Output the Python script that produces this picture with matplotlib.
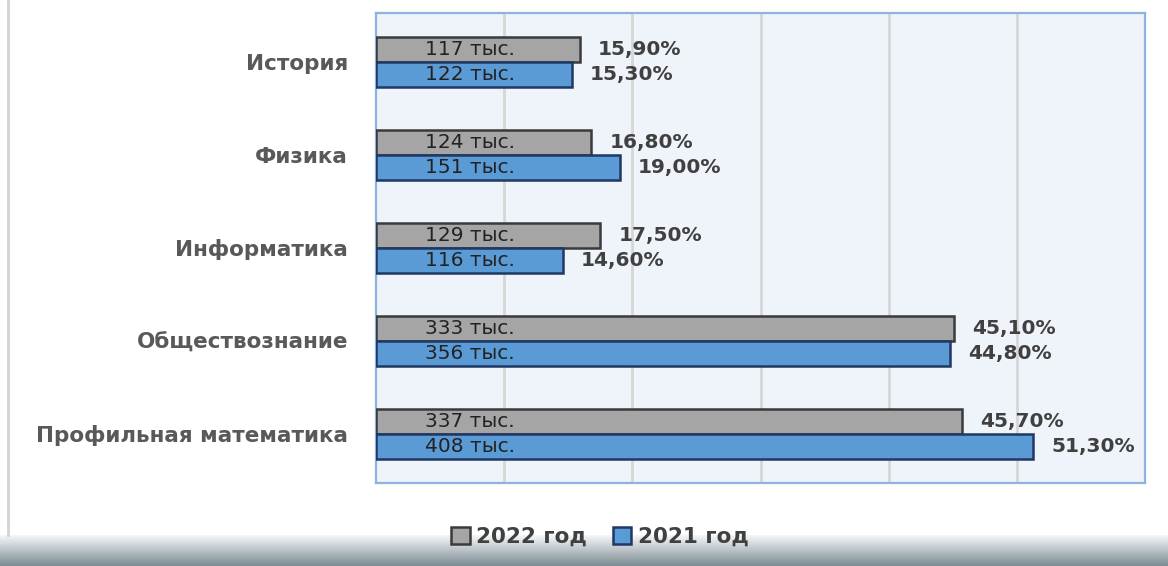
import numpy as np
import matplotlib.pyplot as plt
from matplotlib.patches import Patch
from matplotlib.lines import Line2D

# data
subjects = ['История', 'Физика', 'Информатика', 'Обществознание', 'Профильная математика']
pct_2022 = [15.9, 16.8, 17.5, 45.1, 45.7]
pct_2021 = [15.3, 19.0, 14.6, 44.8, 51.3]
count_2022 = [117, 124, 129, 333, 337]
count_2021 = [122, 151, 116, 356, 408]

gray = '#A5A5A5'
blue = '#5B9BD5'
text_dark = '#404040'

fig = plt.figure(figsize=(11.68, 5.66), dpi=100)
fig.patch.set_facecolor('white')

# bottom gradient band
band = fig.add_axes([0, 0, 1, 31 / 566])
grad = np.linspace(0, 1, 64).reshape(-1, 1)
top_c = np.array([0.96, 0.97, 0.98])
bot_c = np.array([0.49, 0.55, 0.57])
img = top_c + (bot_c - top_c) * grad[..., None]
band.imshow(img, aspect='auto', extent=[0, 1, 0, 1], origin='upper')
band.axis('off')

# thin left frame line
fig.add_artist(Line2D([8 / 1168, 8 / 1168], [31 / 566, 1], color='#D4D4D4', lw=2))

ax = fig.add_axes([376 / 1168, 1 - 483 / 566, 769 / 1168, 470 / 566])
ax.set_facecolor('#EFF3FA')

y = np.arange(len(subjects))
h = 0.265
ax.barh(y - h / 2, pct_2022, height=h, color=gray, edgecolor='#3A3A3A', linewidth=1.8, zorder=3)
ax.barh(y + h / 2, pct_2021, height=h, color=blue, edgecolor='#1F3864', linewidth=1.8, zorder=3)

for i in range(len(subjects)):
    ax.annotate(f'{count_2022[i]} тыс.', (0, y[i] - h / 2), xytext=(35, 0), textcoords='offset points',
                ha='left', va='center', fontsize=14.5, color='#222222', zorder=4)
    ax.annotate(f'{count_2021[i]} тыс.', (0, y[i] + h / 2), xytext=(35, 0), textcoords='offset points',
                ha='left', va='center', fontsize=14.5, color='#222222', zorder=4)
    ax.annotate(f'{pct_2022[i]:.2f}%'.replace('.', ','), (pct_2022[i], y[i] - h / 2), xytext=(13, 0),
                textcoords='offset points', ha='left', va='center', fontsize=14.5,
                fontweight='bold', color=text_dark, zorder=4)
    ax.annotate(f'{pct_2021[i]:.2f}%'.replace('.', ','), (pct_2021[i], y[i] + h / 2), xytext=(13, 0),
                textcoords='offset points', ha='left', va='center', fontsize=14.5,
                fontweight='bold', color=text_dark, zorder=4)

ax.set_xlim(0, 60)
ax.set_ylim(4.527, -0.527)
ax.set_xticks([10, 20, 30, 40, 50])
ax.set_xticklabels([])
ax.set_yticks(y)
ax.set_yticklabels(subjects, fontsize=15.5, fontweight='bold', color='#595959')
ax.tick_params(axis='both', length=0, pad=20)
ax.grid(axis='x', color='#D6D6D6', linewidth=2, zorder=0)
for s in ax.spines.values():
    s.set_color('#8DB3E2')
    s.set_linewidth(1.6)

handles = [Patch(facecolor=gray, edgecolor='#3A3A3A', linewidth=1.8, label='2022 год'),
           Patch(facecolor=blue, edgecolor='#1F3864', linewidth=1.8, label='2021 год')]
fig.legend(handles=handles, loc='center', bbox_to_anchor=(600 / 1168, 1 - 537 / 566), ncol=2,
           frameon=False, handlelength=0.85, handleheight=0.85, handletextpad=0.3,
           columnspacing=1.2, prop={'size': 15.5, 'weight': 'bold'}, labelcolor='#404040')

fig.savefig('out.png', dpi=100)
